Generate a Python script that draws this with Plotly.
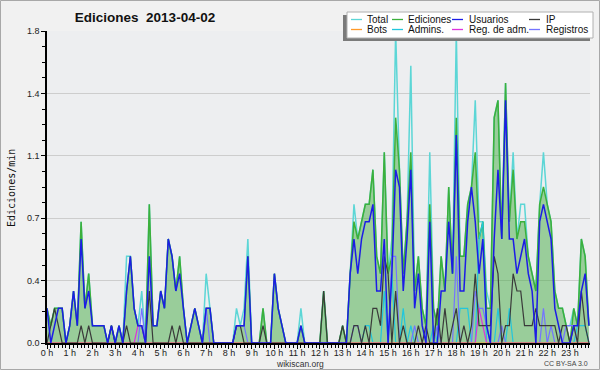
import plotly.graph_objects as go

# ---------------- data (edits per minute, 10-minute buckets, 2013-04-02) ----------------
hour_ticks = list(range(24))
hour_labels = ["0 h", "1 h", "2 h", "3 h", "4 h", "5 h", "6 h", "7 h", "8 h", "9 h", "10 h", "11 h",
               "12 h", "13 h", "14 h", "15 h", "16 h", "17 h", "18 h", "19 h", "20 h", "21 h", "22 h", "23 h"]
y_tickvals = [0, 0.36, 0.72, 1.08, 1.44, 1.8]
y_ticktext = ["0.0", "0.4", "0.7", "1.1", "1.4", "1.8"]

total = [
    0.2, 0.1, 0.2, 0.2, 0.2, 0.0,   0.1, 0.3, 0.1, 0.7, 0.2, 0.4,
    0.1, 0.1, 0.1, 0.1, 0.0, 0.1,   0.0, 0.1, 0.0, 0.5, 0.5, 0.2,
    0.1, 0.3, 0.0, 0.8, 0.1, 0.1,   0.3, 0.2, 0.6, 0.5, 0.3, 0.5,
    0.2, 0.0, 0.1, 0.2, 0.1, 0.0,   0.4, 0.2, 0.0, 0.0, 0.0, 0.0,
    0.0, 0.0, 0.2, 0.1, 0.2, 0.6,   0.0, 0.0, 0.0, 0.2, 0.0, 0.0,
    0.4, 0.2, 0.1, 0.0, 0.0, 0.0,   0.0, 0.2, 0.0, 0.0, 0.0, 0.0,
    0.0, 0.3, 0.0, 0.0, 0.0, 0.0,   0.1, 0.0, 0.4, 0.8, 0.6, 0.7,
    0.8, 0.8, 1.0, 0.5, 0.4, 1.1,   0.4, 0.6, 1.8, 1.0, 0.4, 0.7,
    1.6, 0.3, 0.5, 0.2, 0.1, 1.1,   0.2, 0.1, 0.5, 0.3, 0.9, 0.4,
    1.8, 0.5, 0.5, 0.8, 0.9, 1.4,   0.7, 0.7, 0.3, 0.2, 1.3, 1.4,
    0.6, 1.5, 0.7, 1.1, 0.6, 0.8,   0.8, 0.5, 0.4, 0.3, 0.8, 1.1,
    0.8, 0.7, 0.3, 0.2, 0.2, 0.1,   0.1, 0.2, 0.1, 0.6, 0.5, 0.1,
]
ediciones = [
    0.2, 0.1, 0.2, 0.2, 0.2, 0.0,   0.1, 0.3, 0.1, 0.7, 0.2, 0.4,
    0.1, 0.1, 0.1, 0.1, 0.0, 0.1,   0.0, 0.1, 0.0, 0.3, 0.5, 0.2,
    0.1, 0.1, 0.0, 0.8, 0.1, 0.1,   0.3, 0.2, 0.6, 0.5, 0.3, 0.5,
    0.2, 0.0, 0.1, 0.2, 0.1, 0.0,   0.2, 0.2, 0.0, 0.0, 0.0, 0.0,
    0.0, 0.0, 0.1, 0.1, 0.1, 0.5,   0.0, 0.0, 0.0, 0.2, 0.0, 0.0,
    0.4, 0.2, 0.1, 0.0, 0.0, 0.0,   0.0, 0.1, 0.0, 0.0, 0.0, 0.0,
    0.0, 0.3, 0.0, 0.0, 0.0, 0.0,   0.1, 0.0, 0.4, 0.7, 0.6, 0.7,
    0.8, 0.8, 1.0, 0.5, 0.4, 1.1,   0.4, 0.5, 1.3, 1.0, 0.4, 0.7,
    1.1, 0.3, 0.5, 0.2, 0.1, 0.8,   0.2, 0.1, 0.5, 0.3, 0.9, 0.4,
    1.3, 0.5, 0.5, 0.8, 0.9, 1.1,   0.6, 0.7, 0.2, 0.2, 1.3, 1.4,
    0.6, 1.5, 0.7, 1.0, 0.6, 0.7,   0.7, 0.5, 0.4, 0.3, 0.8, 0.9,
    0.8, 0.7, 0.3, 0.2, 0.2, 0.1,   0.0, 0.2, 0.1, 0.6, 0.5, 0.1,
]
usuarios = [
    0.2, 0.0, 0.1, 0.2, 0.2, 0.0,   0.1, 0.3, 0.1, 0.6, 0.2, 0.3,
    0.1, 0.1, 0.1, 0.1, 0.0, 0.1,   0.0, 0.1, 0.0, 0.3, 0.5, 0.2,
    0.1, 0.1, 0.0, 0.5, 0.1, 0.1,   0.3, 0.2, 0.6, 0.5, 0.3, 0.4,
    0.2, 0.0, 0.1, 0.2, 0.1, 0.0,   0.2, 0.2, 0.0, 0.0, 0.0, 0.0,
    0.0, 0.0, 0.1, 0.1, 0.1, 0.5,   0.0, 0.0, 0.0, 0.0, 0.0, 0.0,
    0.4, 0.2, 0.1, 0.0, 0.0, 0.0,   0.0, 0.1, 0.0, 0.0, 0.0, 0.0,
    0.0, 0.0, 0.0, 0.0, 0.0, 0.0,   0.0, 0.0, 0.4, 0.6, 0.4, 0.6,
    0.7, 0.7, 0.8, 0.3, 0.3, 0.6,   0.0, 0.4, 1.0, 0.9, 0.3, 0.6,
    1.0, 0.2, 0.4, 0.1, 0.0, 0.7,   0.0, 0.0, 0.3, 0.3, 0.7, 0.4,
    1.2, 0.3, 0.3, 0.7, 0.9, 0.7,   0.4, 0.6, 0.1, 0.0, 0.6, 1.0,
    0.6, 1.4, 0.6, 0.6, 0.4, 0.5,   0.6, 0.4, 0.3, 0.0, 0.7, 0.8,
    0.7, 0.6, 0.2, 0.1, 0.0, 0.0,   0.0, 0.1, 0.1, 0.3, 0.4, 0.1,
]
ip = [
    0.0, 0.1, 0.2, 0.1, 0.0, 0.0,   0.0, 0.0, 0.0, 0.1, 0.0, 0.1,
    0.0, 0.0, 0.0, 0.0, 0.0, 0.1,   0.0, 0.0, 0.0, 0.1, 0.0, 0.0,
    0.0, 0.0, 0.0, 0.3, 0.0, 0.0,   0.0, 0.0, 0.0, 0.1, 0.0, 0.1,
    0.0, 0.0, 0.0, 0.0, 0.0, 0.0,   0.0, 0.0, 0.0, 0.0, 0.0, 0.0,
    0.0, 0.0, 0.1, 0.1, 0.0, 0.0,   0.0, 0.0, 0.0, 0.1, 0.0, 0.0,
    0.0, 0.0, 0.0, 0.0, 0.0, 0.0,   0.0, 0.0, 0.0, 0.0, 0.0, 0.0,
    0.0, 0.3, 0.0, 0.0, 0.0, 0.0,   0.1, 0.0, 0.0, 0.1, 0.1, 0.0,
    0.1, 0.0, 0.2, 0.2, 0.1, 0.5,   0.4, 0.0, 0.3, 0.0, 0.1, 0.0,
    0.0, 0.0, 0.1, 0.0, 0.1, 0.0,   0.0, 0.2, 0.0, 0.2, 0.0, 0.1,
    0.2, 0.0, 0.1, 0.0, 0.1, 0.4,   0.1, 0.1, 0.1, 0.1, 0.5, 0.4,
    0.0, 0.1, 0.1, 0.4, 0.3, 0.3,   0.1, 0.1, 0.1, 0.2, 0.1, 0.1,
    0.1, 0.1, 0.1, 0.0, 0.1, 0.1,   0.0, 0.1, 0.0, 0.3, 0.1, 0.0,
]
bots = [
    0.0, 0.0, 0.0, 0.0, 0.0, 0.0,   0.0, 0.0, 0.0, 0.0, 0.0, 0.0,
    0.0, 0.0, 0.0, 0.0, 0.0, 0.0,   0.0, 0.0, 0.0, 0.0, 0.0, 0.0,
    0.0, 0.0, 0.0, 0.0, 0.0, 0.0,   0.0, 0.0, 0.0, 0.0, 0.0, 0.0,
    0.0, 0.0, 0.0, 0.0, 0.0, 0.0,   0.0, 0.0, 0.0, 0.0, 0.0, 0.0,
    0.0, 0.0, 0.0, 0.0, 0.0, 0.0,   0.0, 0.0, 0.0, 0.0, 0.0, 0.0,
    0.0, 0.0, 0.0, 0.0, 0.0, 0.0,   0.0, 0.0, 0.0, 0.0, 0.0, 0.0,
    0.0, 0.0, 0.0, 0.0, 0.0, 0.0,   0.0, 0.0, 0.0, 0.0, 0.0, 0.0,
    0.0, 0.0, 0.0, 0.0, 0.0, 0.0,   0.0, 0.0, 0.0, 0.0, 0.0, 0.0,
    0.0, 0.0, 0.0, 0.0, 0.0, 0.0,   0.0, 0.0, 0.0, 0.0, 0.0, 0.0,
    0.0, 0.0, 0.0, 0.0, 0.0, 0.0,   0.0, 0.0, 0.0, 0.0, 0.0, 0.0,
    0.0, 0.0, 0.0, 0.0, 0.0, 0.0,   0.0, 0.0, 0.0, 0.0, 0.0, 0.0,
    0.0, 0.0, 0.0, 0.0, 0.0, 0.0,   0.0, 0.0, 0.0, 0.0, 0.0, 0.0,
]
admins = [
    0.0, 0.0, 0.0, 0.0, 0.0, 0.0,   0.0, 0.0, 0.0, 0.0, 0.0, 0.0,
    0.0, 0.0, 0.0, 0.0, 0.0, 0.0,   0.0, 0.0, 0.0, 0.0, 0.0, 0.0,
    0.0, 0.0, 0.0, 0.0, 0.0, 0.0,   0.0, 0.0, 0.0, 0.0, 0.0, 0.0,
    0.0, 0.0, 0.0, 0.0, 0.0, 0.0,   0.0, 0.0, 0.0, 0.0, 0.0, 0.0,
    0.0, 0.0, 0.0, 0.0, 0.0, 0.0,   0.0, 0.0, 0.0, 0.0, 0.0, 0.0,
    0.0, 0.0, 0.0, 0.0, 0.0, 0.0,   0.0, 0.0, 0.0, 0.0, 0.0, 0.0,
    0.0, 0.0, 0.0, 0.0, 0.0, 0.0,   0.0, 0.0, 0.0, 0.0, 0.0, 0.0,
    0.1, 0.1, 0.0, 0.0, 0.0, 0.3,   0.0, 0.4, 0.0, 0.0, 0.2, 0.0,
    0.1, 0.0, 0.0, 0.0, 0.0, 0.0,   0.1, 0.0, 0.0, 0.0, 0.0, 0.0,
    0.0, 0.2, 0.2, 0.2, 0.0, 0.0,   0.6, 0.7, 0.0, 0.0, 0.0, 0.2,
    0.0, 0.0, 0.2, 0.0, 0.0, 0.0,   0.0, 0.0, 0.0, 0.0, 0.0, 0.0,
    0.0, 0.0, 0.0, 0.0, 0.0, 0.0,   0.0, 0.0, 0.1, 0.1, 0.1, 0.0,
]
reg_adm = [
    0.0, 0.0, 0.0, 0.0, 0.0, 0.0,   0.0, 0.0, 0.0, 0.0, 0.0, 0.0,
    0.0, 0.0, 0.0, 0.0, 0.0, 0.0,   0.0, 0.0, 0.0, 0.0, 0.0, 0.0,
    0.1, 0.1, 0.0, 0.0, 0.0, 0.0,   0.0, 0.0, 0.0, 0.0, 0.0, 0.0,
    0.0, 0.0, 0.0, 0.0, 0.0, 0.0,   0.0, 0.0, 0.0, 0.0, 0.0, 0.0,
    0.0, 0.0, 0.0, 0.0, 0.0, 0.0,   0.0, 0.0, 0.0, 0.0, 0.0, 0.0,
    0.0, 0.0, 0.0, 0.0, 0.0, 0.0,   0.0, 0.0, 0.0, 0.0, 0.0, 0.0,
    0.0, 0.0, 0.0, 0.0, 0.0, 0.0,   0.0, 0.0, 0.0, 0.0, 0.0, 0.0,
    0.0, 0.0, 0.0, 0.0, 0.0, 0.0,   0.0, 0.0, 0.0, 0.0, 0.0, 0.0,
    0.0, 0.0, 0.0, 0.0, 0.0, 0.0,   0.0, 0.0, 0.0, 0.0, 0.0, 0.0,
    0.0, 0.0, 0.0, 0.0, 0.0, 0.0,   0.2, 0.1, 0.0, 0.0, 0.0, 0.0,
    0.0, 0.0, 0.0, 0.0, 0.0, 0.0,   0.0, 0.0, 0.0, 0.0, 0.0, 0.0,
    0.0, 0.0, 0.0, 0.0, 0.0, 0.0,   0.0, 0.0, 0.0, 0.0, 0.0, 0.0,
]
registros = [
    0.0, 0.0, 0.0, 0.0, 0.0, 0.0,   0.0, 0.0, 0.0, 0.0, 0.0, 0.0,
    0.0, 0.0, 0.0, 0.0, 0.0, 0.0,   0.0, 0.0, 0.0, 0.0, 0.0, 0.0,
    0.0, 0.2, 0.0, 0.0, 0.0, 0.0,   0.0, 0.0, 0.0, 0.0, 0.0, 0.0,
    0.0, 0.0, 0.0, 0.0, 0.0, 0.0,   0.2, 0.0, 0.0, 0.0, 0.0, 0.0,
    0.0, 0.0, 0.1, 0.1, 0.1, 0.0,   0.0, 0.0, 0.0, 0.0, 0.0, 0.0,
    0.0, 0.0, 0.0, 0.0, 0.0, 0.0,   0.0, 0.0, 0.0, 0.0, 0.0, 0.0,
    0.0, 0.0, 0.0, 0.0, 0.0, 0.0,   0.0, 0.0, 0.0, 0.1, 0.1, 0.0,
    0.0, 0.0, 0.0, 0.0, 0.0, 0.0,   0.0, 0.5, 0.5, 0.0, 0.0, 0.0,
    0.0, 0.1, 0.0, 0.0, 0.0, 0.0,   0.0, 0.1, 0.0, 0.0, 0.0, 0.0,
    0.5, 0.0, 0.0, 0.0, 0.0, 0.3,   0.2, 0.2, 0.1, 0.0, 0.0, 0.0,
    0.1, 0.0, 0.0, 0.0, 0.0, 0.0,   0.0, 0.0, 0.0, 0.0, 0.0, 0.2,
    0.0, 0.1, 0.0, 0.0, 0.0, 0.1,   0.1, 0.1, 0.0, 0.0, 0.0, 0.0,
]

times = [i / 6 for i in range(len(total))]  # hours of the day, 10-minute steps

# ---------------- styling ----------------
colors = {
    "Total": "#5cd6d6",
    "Ediciones": "#3cb03c",
    "Usuarios": "#1c1ce6",
    "IP": "#3a3a3a",
    "Bots": "#ff9a2a",
    "Admins.": "#22c6dc",
    "Reg. de adm.": "#dd33dd",
    "Registros": "#7474ff",
}

fig = go.Figure()

def add_line(name, values, width=1.3, **kw):
    fig.add_trace(go.Scatter(x=times, y=values, name=name, mode="lines",
                             line=dict(color=colors[name], width=width),
                             showlegend=False, **kw))

add_line("Total", total, 1.5)
add_line("Ediciones", ediciones, 1.5, fill="tozeroy", fillcolor="rgba(60,170,60,0.48)")
add_line("Admins.", admins, 1.2)
add_line("Registros", registros, 1.2)
add_line("Reg. de adm.", reg_adm, 1.2)
add_line("Bots", bots, 1.0)
add_line("IP", ip, 1.2)
add_line("Usuarios", usuarios, 1.5)

# pixel helpers (plot area: x 47..590, y 31..343)
L, R, T, B = 47, 10, 31, 27
W, H = 600, 370
PW, PH = W - L - R, H - T - B

def px(x):
    return (x - L) / PW

def py(y):
    return (H - B - y) / PH

shapes = []
annotations = []

# outer border
shapes.append(dict(type="rect", xref="paper", yref="paper", x0=px(0.5), x1=px(599.5),
                   y0=py(369.5), y1=py(0.5), line=dict(color="#a8a8a8", width=1), layer="above"))

# legend box with shadow
shapes.append(dict(type="rect", xref="paper", yref="paper", x0=px(343), x1=px(590),
                   y0=py(41), y1=py(15), fillcolor="#7a7a7a", line=dict(width=0), layer="above"))
shapes.append(dict(type="rect", xref="paper", yref="paper", x0=px(347), x1=px(593),
                   y0=py(38), y1=py(12), fillcolor="#ffffff",
                   line=dict(color="#b0b0b0", width=1), layer="above"))

legend_order = ["Total", "Ediciones", "Usuarios", "IP", "Bots", "Admins.", "Reg. de adm.", "Registros"]
col_line_x = [351, 392, 452, 529]
col_text_x = [365, 406, 467, 544]
row_y = [19.5, 29.5]
for k, name in enumerate(legend_order):
    r, c = divmod(k, 4)
    yy = py(row_y[r])
    shapes.append(dict(type="line", xref="paper", yref="paper",
                       x0=px(col_line_x[c]), x1=px(col_line_x[c] + 11), y0=yy, y1=yy,
                       line=dict(color=colors[name], width=1.3), layer="above"))
    annotations.append(dict(text=name, xref="paper", yref="paper", x=px(col_text_x[c]), y=yy,
                            xanchor="left", yanchor="middle", showarrow=False,
                            font=dict(family="Liberation Sans, Arial, sans-serif", size=10, color="#111111")))

# y axis title
annotations.append(dict(text="Ediciones/min", xref="paper", yref="paper", x=px(11), y=py(188),
                        xanchor="center", yanchor="middle", textangle=-90, showarrow=False,
                        font=dict(family="DejaVu Sans Mono, monospace", size=10, color="#111111")))
# footer texts
annotations.append(dict(text="wikiscan.org", xref="paper", yref="paper", x=px(300), y=py(363.5),
                        xanchor="center", yanchor="middle", showarrow=False,
                        font=dict(family="Liberation Sans, Arial, sans-serif", size=8.5, color="#333333")))
annotations.append(dict(text="CC BY-SA 3.0", xref="paper", yref="paper", x=px(590), y=py(363.5),
                        xanchor="right", yanchor="middle", showarrow=False,
                        font=dict(family="Liberation Sans, Arial, sans-serif", size=7, color="#444444")))

fig.update_layout(
    width=W, height=H,
    margin=dict(l=L, r=R, t=T, b=B, pad=0),
    paper_bgcolor="#f1f1f1",
    plot_bgcolor="#edeef0",
    showlegend=False,
    title=dict(text="<b>Ediciones  2013-04-02</b>", x=145 / W, xref="container", xanchor="center",
               y=1 - 17 / H, yref="container", yanchor="middle",
               font=dict(family="Liberation Sans, Arial, sans-serif", size=13.5, color="#111111")),
    shapes=shapes,
    annotations=annotations,
    xaxis=dict(
        range=[0, 23.88], tickmode="array", tickvals=hour_ticks, ticktext=hour_labels,
        ticks="outside", ticklen=4, tickwidth=1, tickcolor="#000000",
        showline=True, linecolor="#000000", linewidth=1.5, showgrid=False, zeroline=False,
        tickfont=dict(family="Liberation Sans, Arial, sans-serif", size=9, color="#222222"),
        ticklabelstandoff=-4,
        minor=dict(tick0=0, dtick=1 / 6, ticks="outside", ticklen=3, tickcolor="#000000", showgrid=False),
        fixedrange=True,
    ),
    yaxis=dict(
        range=[0, 1.8], tickmode="array", tickvals=y_tickvals, ticktext=y_ticktext,
        ticks="outside", ticklen=4, tickwidth=1, tickcolor="#000000",
        showline=True, linecolor="#000000", linewidth=1.5,
        showgrid=True, gridcolor="#cdcdcd", gridwidth=1, zeroline=False,
        tickfont=dict(family="Liberation Sans, Arial, sans-serif", size=9, color="#222222"),
        minor=dict(tick0=0, dtick=0.09, ticks="outside", ticklen=3, tickcolor="#000000", showgrid=False),
        fixedrange=True,
    ),
)

fig.write_html("out.html", config={"displayModeBar": False},
               post_script="document.body.style.margin='0px';document.body.style.padding='0px';")
